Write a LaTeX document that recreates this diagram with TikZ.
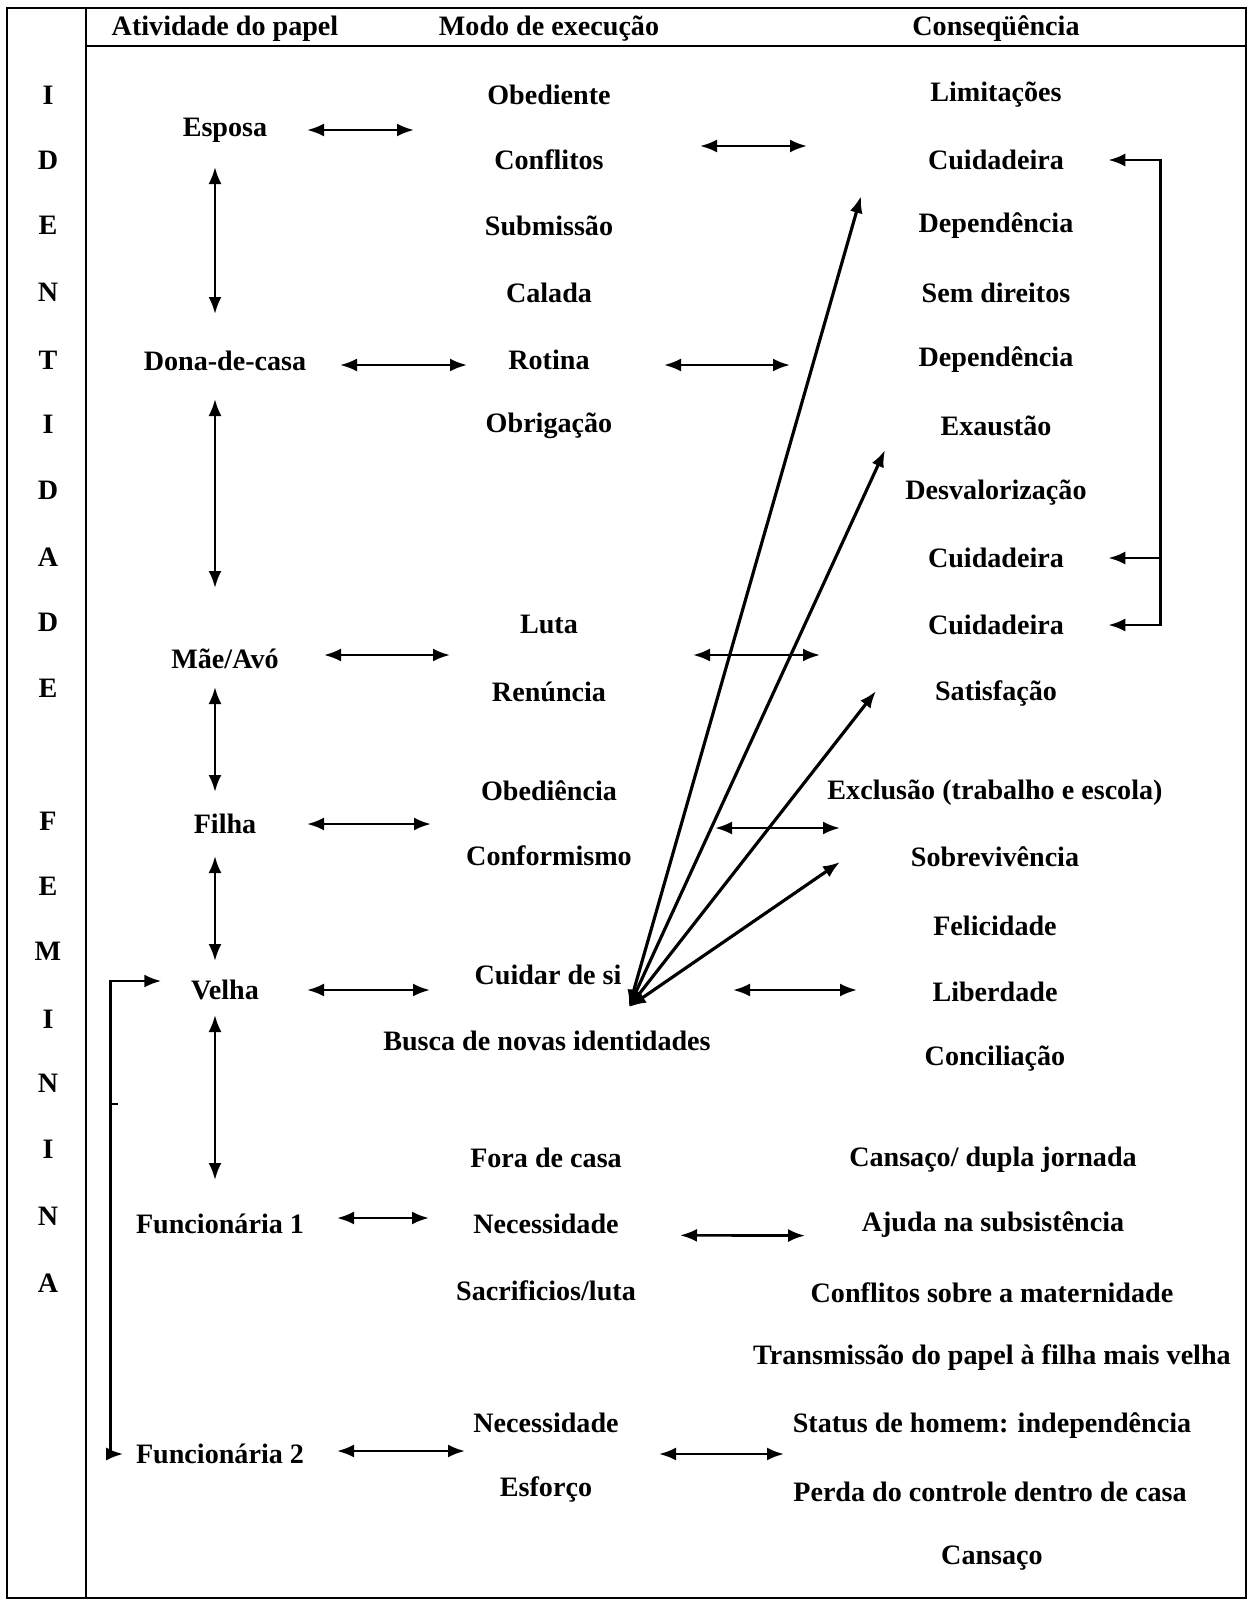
\documentclass[tikz,border=0pt]{standalone}
\usepackage{fontspec}
\setmainfont{Liberation Serif}
\usetikzlibrary{
    arrows.meta,
    positioning,
    calc,
}

\begin{document}
\begin{tikzpicture}[
    >={Latex[length=0.34cm,width=0.26cm]},
    item/.style={font=\fontsize{16}{19}\selectfont\bfseries, inner sep=0pt,
    anchor=center},
    link/.style={<->, line width=1.5pt},
    fan/.style={<->, line width=1.8pt},
    frame/.style={line width=1.5pt},
]

\useasboundingbox (0,0) rectangle (24.98,-32.06);

% FRAME
\draw[frame] (0.14,-0.16) rectangle (24.92,-31.96);
\draw[frame] (1.72,-0.16) -- (1.72,-31.96);
\draw[frame] (1.72,-0.92) -- (24.92,-0.92);

% HEADERS
\node[item] at (4.50,-0.58) (head_act) {Atividade do papel};
\node[item] at (10.98,-0.58) (head_mod) {Modo de execução};
\node[item] at (19.92,-0.58) (head_con) {Conseqüência};

% IDENTIDADE FEMININA
\node[item] at (0.96,-1.90) (id_1) {I};
\node[item] at (0.96,-3.20) (id_2) {D};
\node[item] at (0.96,-4.50) (id_3) {E};
\node[item] at (0.96,-5.84) (id_4) {N};
\node[item] at (0.96,-7.20) (id_5) {T};
\node[item] at (0.96,-8.48) (id_6) {I};
\node[item] at (0.96,-9.80) (id_7) {D};
\node[item] at (0.96,-11.14) (id_8) {A};
\node[item] at (0.96,-12.44) (id_9) {D};
\node[item] at (0.96,-13.76) (id_10) {E};
\node[item] at (0.96,-16.42) (id_11) {F};
\node[item] at (0.96,-17.72) (id_12) {E};
\node[item] at (0.96,-19.02) (id_13) {M};
\node[item] at (0.96,-20.38) (id_14) {I};
\node[item] at (0.96,-21.66) (id_15) {N};
\node[item] at (0.96,-22.98) (id_16) {I};
\node[item] at (0.96,-24.32) (id_17) {N};
\node[item] at (0.96,-25.66) (id_18) {A};

% ATIVIDADES
\node[item] at (4.50,-2.60) (act_1) {Esposa};
\node[item] at (4.50,-7.22) (act_2) {Dona-de-casa};
\node[item] at (4.50,-13.18) (act_3) {Mãe/Avó};
\node[item] at (4.50,-16.48) (act_4) {Filha};
\node[item] at (4.50,-19.80) (act_5) {Velha};
\node[item] at (4.40,-24.48) (act_6) {Funcionária 1};
\node[item] at (4.40,-29.08) (act_7) {Funcionária 2};

% MODOS
\node[item] at (10.98,-1.90) (mod_1) {Obediente};
\node[item] at (10.98,-3.20) (mod_2) {Conflitos};
\node[item] at (10.98,-4.52) (mod_3) {Submissão};
\node[item] at (10.98,-5.86) (mod_4) {Calada};
\node[item] at (10.98,-7.20) (mod_5) {Rotina};
\node[item] at (10.98,-8.52) (mod_6) {Obrigação};
\node[item] at (10.98,-12.48) (mod_7) {Luta};
\node[item] at (10.98,-13.84) (mod_8) {Renúncia};
\node[item] at (10.98,-15.82) (mod_9) {Obediência};
\node[item] at (10.98,-17.12) (mod_10) {Conformismo};
\node[item] at (10.96,-19.50) (mod_11) {Cuidar de si};
\node[item] at (10.94,-20.82) (mod_12) {Busca de novas identidades};
\node[item] at (10.92,-23.16) (mod_13) {Fora de casa};
\node[item] at (10.92,-24.48) (mod_14) {Necessidade};
\node[item] at (10.92,-25.82) (mod_15) {Sacrificios/luta};
\node[item] at (10.92,-28.46) (mod_16) {Necessidade};
\node[item] at (10.92,-29.78) (mod_17) {Esforço};

% CONSEQUENCIAS
\node[item] at (19.92,-1.90) (con_1) {Limitações};
\node[item] at (19.92,-3.20) (con_2) {Cuidadeira};
\node[item] at (19.92,-4.52) (con_3) {Dependência};
\node[item] at (19.92,-5.86) (con_4) {Sem direitos};
\node[item] at (19.92,-7.20) (con_5) {Dependência};
\node[item] at (19.92,-8.52) (con_6) {Exaustão};
\node[item] at (19.92,-9.86) (con_7) {Desvalorização};
\node[item] at (19.92,-11.16) (con_8) {Cuidadeira};
\node[item] at (19.92,-12.50) (con_9) {Cuidadeira};
\node[item] at (19.92,-13.86) (con_10) {Satisfação};
\node[item] at (19.90,-15.86) (con_11) {Exclusão (trabalho e escola)};
\node[item] at (19.90,-17.14) (con_12) {Sobrevivência};
\node[item] at (19.90,-18.52) (con_13) {Felicidade};
\node[item] at (19.90,-19.84) (con_14) {Liberdade};
\node[item] at (19.90,-21.18) (con_15) {Conciliação};
\node[item] at (19.86,-23.20) (con_16) {Cansaço/ dupla jornada};
\node[item] at (19.86,-24.50) (con_17) {Ajuda na subsistência};
\node[item] at (19.84,-25.86) (con_18) {Conflitos sobre a maternidade};
\node[item] at (19.84,-27.16) (con_19) {Transmissão do papel à filha mais velha};
\node[item] at (19.84,-28.52) (con_20) {Status de homem: independência};
\node[item] at (19.80,-29.84) (con_21) {Perda do controle dentro de casa};
\node[item] at (19.84,-31.16) (con_22) {Cansaço};

% VERTICAL LINKS
\draw[link, shorten <=0.74cm, shorten >=0.94cm] ([xshift=-0.2cm]act_1.center)
    -- ([xshift=-0.2cm]act_2.center);
\draw[link, shorten <=0.76cm, shorten >=1.42cm] ([xshift=-0.2cm]act_2.center)
    -- ([xshift=-0.2cm]act_3.center);
\draw[link, shorten <=0.56cm, shorten >=0.64cm] ([xshift=-0.2cm]act_3.center)
    -- ([xshift=-0.2cm]act_4.center);
\draw[link, shorten <=0.64cm, shorten >=0.58cm] ([xshift=-0.2cm]act_4.center)
    -- ([xshift=-0.2cm]act_5.center);
\draw[link, shorten <=0.50cm, shorten >=0.88cm] ([xshift=-0.2cm]act_5.center)
    -- ([xshift=-0.2cm]act_5.center |- act_6.center);

% LINKS ATIVIDADE - MODO
\draw[link, shorten <=1.64cm, shorten >=2.70cm] (act_1.center)
    -- (act_1.center -| mod_1.center);
\draw[link, shorten <=2.30cm, shorten >=1.64cm] ([yshift=-0.08cm]act_2.center)
    -- ([yshift=-0.08cm]act_2.center -| mod_5.center);
\draw[link, shorten <=1.98cm, shorten >=1.98cm] ([yshift=0.08cm]act_3.center)
    -- ([yshift=0.08cm]act_3.center -| mod_7.center);
\draw[link, shorten <=1.64cm, shorten >=2.36cm] (act_4.center)
    -- (act_4.center -| mod_9.center);
\draw[link, shorten <=1.64cm, shorten >=2.36cm] (act_5.center)
    -- (act_5.center -| mod_11.center);
\draw[link, shorten <=2.34cm, shorten >=2.34cm] ([yshift=0.12cm]act_6.center)
    -- ([yshift=0.12cm]act_6.center -| mod_14.center);
\draw[link, shorten <=2.34cm, shorten >=1.62cm] ([yshift=0.06cm]act_7.center)
    -- ([yshift=0.06cm]act_7.center -| mod_16.center);

% LINKS MODO - CONSEQUENCIA
\draw[link, shorten <=3.02cm, shorten >=3.78cm] ([yshift=0.28cm]mod_2.center)
    -- ([yshift=0.28cm]con_2.center);
\draw[link, shorten <=2.30cm, shorten >=4.12cm] ([yshift=-0.1cm]mod_5.center)
    -- ([yshift=-0.1cm]con_5.center);
\draw[link, shorten <=2.88cm, shorten >=3.52cm]
    ([yshift=0.08cm]act_3.center -| mod_7.center)
    -- ([yshift=0.08cm]act_3.center -| con_9.center);
\draw[link, shorten <=3.32cm, shorten >=3.10cm]
    ([yshift=-0.08cm]act_4.center -| mod_9.center)
    -- ([yshift=-0.08cm]act_4.center -| con_11.center);
\draw[link, shorten <=3.70cm, shorten >=2.76cm] (act_5.center -| mod_11.center)
    -- (act_5.center -| con_14.center);
\draw[link, shorten <=2.68cm, shorten >=3.76cm] ([yshift=-0.22cm]mod_14.center)
    -- ([yshift=-0.22cm]con_17.center);
\draw[link, shorten <=2.26cm, shorten >=4.16cm] (act_7.center -| mod_16.center)
    -- (act_7.center -| con_20.center);

% FAN FROM VELHA
\coordinate (fan) at (12.58,-20.14);
\coordinate (fan_1) at (17.22,-3.92);
\coordinate (fan_2) at (17.70,-9.00);
\coordinate (fan_3) at (17.52,-13.82);
\coordinate (fan_4) at (16.80,-17.24);
\draw[fan] (fan) -- (fan_1);
\draw[fan] (fan) -- (fan_2);
\draw[fan] (fan) -- (fan_3);
\draw[fan] (fan) -- (fan_4);

% CUIDADEIRA BRACKET
\draw[link, shorten <=0.88cm, shorten >=0.88cm] (con_2.east) -- ++(1.92,0)
    coordinate (rbrk) |- (con_9.east);
\draw[->, line width=1.5pt, shorten >=0.88cm] (rbrk |- con_8.east)
    -- (con_8.east);

% FUNCIONARIA BRACKET
\draw[link, shorten <=0.59cm, shorten >=0.25cm] ([yshift=0.18cm]act_5.west)
    -- ++(-1.61,0) coordinate (lbrk) |- (act_7.west);
\draw[frame] (lbrk |- 0,-22.08) -- ++(0.16,0);

\end{tikzpicture}
\end{document}
